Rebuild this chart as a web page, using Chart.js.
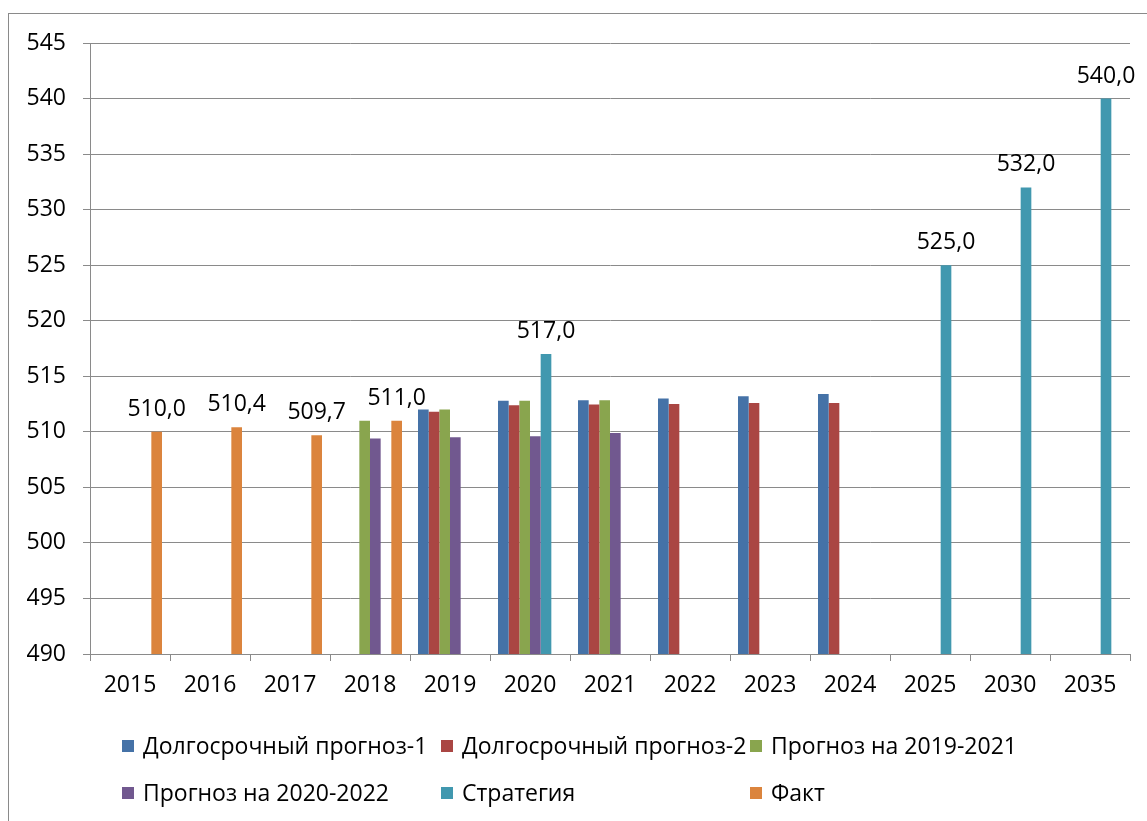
<!DOCTYPE html>
<html>
<head>
<meta charset="utf-8">
<script src="https://cdn.jsdelivr.net/npm/chart.js@4"></script>
<style>
    html, body { margin: 0; padding: 0; background: #fff; }
    #wrap { position: relative; width: 1147px; height: 821px; overflow: hidden; }
    #frame { position: absolute; left: 8px; top: 13px; width: 1200px; height: 900px; border: 1px solid #8a8a8a; }
    canvas { position: absolute; left: 0; top: 0; }
</style>
</head>
<body>
<div id="wrap">
    <div id="frame"></div>
    <canvas id="chart" width="1147" height="821"></canvas>
</div>
<script>
// --- Chart data --- //
const years = ['2015', '2016', '2017', '2018', '2019', '2020', '2021', '2022', '2023', '2024', '2025', '2030', '2035'];

const longTerm1   = [null, null, null, null, 512.0, 512.8, 512.85, 513.0, 513.2, 513.4, null, null, null];
const longTerm2   = [null, null, null, null, 511.8, 512.4, 512.45, 512.5, 512.6, 512.6, null, null, null];
const forecast1921 = [null, null, null, 511.0, 512.0, 512.8, 512.85, null, null, null, null, null, null];
const forecast2022 = [null, null, null, 509.4, 509.5, 509.6, 509.9, null, null, null, null, null, null];
const strategy    = [null, null, null, null, null, 517.0, null, null, null, null, 525.0, 532.0, 540.0];
const fact        = [510.0, 510.4, 509.7, 511.0, null, null, null, null, null, null, null, null, null];

const seriesNames = ['Долгосрочный прогноз-1', 'Долгосрочный прогноз-2', 'Прогноз на 2019-2021',
                     'Прогноз на 2020-2022', 'Стратегия', 'Факт'];
const seriesColors = ['#4572a7', '#aa4643', '#89a54e', '#71588f', '#4198af', '#db843d'];
const labelledSeries = [4, 5]; // only Стратегия and Факт carry value labels

const FONT = '"Open Sans", "Noto Sans", sans-serif';
const FONT_SIZE = 23;

// Value labels above bars of selected series
const valueLabels = {
    id: 'valueLabels',
    afterDatasetsDraw(chart) {
        const ctx = chart.ctx;
        ctx.save();
        ctx.font = `${FONT_SIZE}px ${FONT}`;
        ctx.fillStyle = '#000';
        ctx.textAlign = 'center';
        ctx.textBaseline = 'bottom';
        labelledSeries.forEach(i => {
            const meta = chart.getDatasetMeta(i);
            meta.data.forEach((bar, j) => {
                const v = chart.data.datasets[i].data[j];
                if (v === null) return;
                ctx.fillText(v.toFixed(1).replace('.', ','), bar.x, bar.y - 11);
            });
        });
        ctx.restore();
    }
};

// Legend laid out in fixed columns, two rows
const gridLegend = {
    id: 'gridLegend',
    afterDraw(chart) {
        const ctx = chart.ctx;
        const cols = [122, 441, 750];
        const rows = [746, 793];
        ctx.save();
        ctx.font = `${FONT_SIZE}px ${FONT}`;
        ctx.textBaseline = 'middle';
        ctx.textAlign = 'left';
        chart.data.datasets.forEach((ds, i) => {
            const x = cols[i % 3];
            const y = rows[Math.floor(i / 3)];
            ctx.fillStyle = ds.backgroundColor;
            ctx.fillRect(x, y - 6, 12, 12);
            ctx.fillStyle = '#000';
            ctx.fillText(ds.label, x + 21, y + 1);
        });
        ctx.restore();
    }
};

const seriesData = [longTerm1, longTerm2, forecast1921, forecast2022, strategy, fact];

new Chart(document.getElementById('chart'), {
    type: 'bar',
    data: {
        labels: years,
        datasets: seriesData.map((d, i) => ({
            label: seriesNames[i],
            data: d,
            backgroundColor: seriesColors[i],
            categoryPercentage: 0.8,
            barPercentage: 1.0
        }))
    },
    options: {
        responsive: false,
        animation: false,
        layout: { padding: { top: 43, right: 17, bottom: 107, left: 0 } },
        plugins: {
            legend: { display: false },
            tooltip: { enabled: false }
        },
        scales: {
            x: {
                grid: { offset: true, drawOnChartArea: false, tickLength: 7, color: '#8a8a8a' },
                border: { color: '#8a8a8a' },
                ticks: { color: '#000', font: { family: FONT, size: FONT_SIZE }, padding: 11, maxRotation: 0 },
                afterFit(scale) { scale.height = 60; }
            },
            y: {
                min: 490,
                max: 545,
                ticks: { stepSize: 5, color: '#000', font: { family: FONT, size: FONT_SIZE }, padding: 17 },
                grid: { color: '#8a8a8a', tickLength: 7 },
                border: { color: '#8a8a8a' },
                afterFit(scale) { scale.width = 90; }
            }
        }
    },
    plugins: [valueLabels, gridLegend]
});
</script>
</body>
</html>
